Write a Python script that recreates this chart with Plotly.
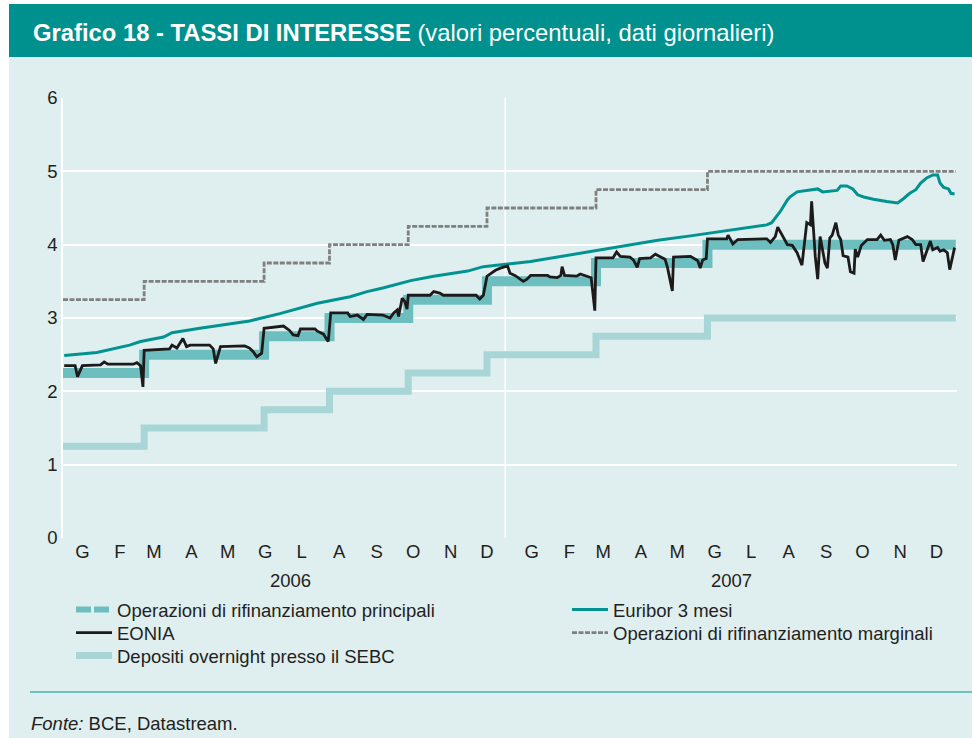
import plotly.graph_objects as go

# ---------------- data ----------------
# Policy rates (step changes, effective dates)
policy_dates = ["2006-01-01", "2006-03-09", "2006-06-16", "2006-08-09", "2006-10-13",
                "2006-12-17", "2007-03-17", "2007-06-17", "2008-01-08"]
mro_values = [2.25, 2.50, 2.75, 3.00, 3.25, 3.50, 3.75, 4.00, 4.00]
deposit_values = [1.25, 1.50, 1.75, 2.00, 2.25, 2.50, 2.75, 3.00, 3.00]
marginal_values = [3.25, 3.50, 3.75, 4.00, 4.25, 4.50, 4.75, 5.00, 5.00]

euribor_dates = ["2006-01-02", "2006-01-29", "2006-02-25", "2006-03-06", "2006-03-25", "2006-04-01",
                 "2006-04-24", "2006-05-15", "2006-06-04", "2006-06-29", "2006-07-30", "2006-08-26",
                 "2006-09-09", "2006-09-22", "2006-10-01", "2006-10-15", "2006-11-03", "2006-11-17",
                 "2006-12-01", "2006-12-14", "2006-12-28", "2007-01-11", "2007-01-22", "2007-02-13",
                 "2007-03-18", "2007-04-08", "2007-05-07", "2007-06-03", "2007-06-30", "2007-07-22",
                 "2007-08-05", "2007-08-09", "2007-08-14", "2007-08-16", "2007-08-22", "2007-08-24",
                 "2007-08-30", "2007-09-10", "2007-09-16", "2007-09-20", "2007-10-02", "2007-10-05",
                 "2007-10-10", "2007-10-15", "2007-10-19", "2007-10-24", "2007-11-01", "2007-11-12",
                 "2007-11-21", "2007-11-26", "2007-12-01", "2007-12-06", "2007-12-10", "2007-12-15",
                 "2007-12-20", "2007-12-24", "2007-12-26", "2007-12-29", "2008-01-02", "2008-01-04",
                 "2008-01-07"]
euribor_values = [2.49, 2.53, 2.63, 2.68, 2.74, 2.80,
                  2.86, 2.91, 2.96, 3.06, 3.20, 3.29,
                  3.36, 3.41, 3.45, 3.51, 3.57, 3.61,
                  3.64, 3.70, 3.73, 3.75, 3.77, 3.83,
                  3.92, 3.98, 4.06, 4.12, 4.18, 4.23,
                  4.27, 4.30, 4.40, 4.45, 4.61, 4.65,
                  4.72, 4.75, 4.76, 4.72, 4.74, 4.80,
                  4.80, 4.76, 4.68, 4.65, 4.62, 4.59,
                  4.57, 4.63, 4.70, 4.75, 4.84, 4.91,
                  4.95, 4.95, 4.84, 4.78, 4.76, 4.70,
                  4.69]

eonia_dates = ["2006-01-02", "2006-01-11", "2006-01-13", "2006-01-17", "2006-02-01", "2006-02-04",
               "2006-02-07", "2006-02-28", "2006-03-03", "2006-03-06", "2006-03-08", "2006-03-09",
               "2006-03-30", "2006-04-01", "2006-04-05", "2006-04-10", "2006-04-13", "2006-04-16",
               "2006-05-02", "2006-05-05", "2006-05-07", "2006-05-11", "2006-05-31", "2006-06-04",
               "2006-06-07", "2006-06-10", "2006-06-14", "2006-06-16", "2006-07-02", "2006-07-07",
               "2006-07-10", "2006-07-14", "2006-07-16", "2006-07-28", "2006-07-30", "2006-08-04",
               "2006-08-07", "2006-08-08", "2006-08-10", "2006-08-24", "2006-08-26", "2006-09-01",
               "2006-09-06", "2006-09-09", "2006-09-22", "2006-09-26", "2006-09-28", "2006-10-01",
               "2006-10-04", "2006-10-05", "2006-10-08", "2006-10-10", "2006-10-12", "2006-10-13",
               "2006-10-31", "2006-11-03", "2006-11-08", "2006-11-11", "2006-12-08", "2006-12-11",
               "2006-12-14", "2006-12-17", "2006-12-20", "2006-12-24", "2006-12-28", "2007-01-03",
               "2007-01-05", "2007-01-09", "2007-01-16", "2007-01-19", "2007-01-22", "2007-02-05",
               "2007-02-07", "2007-02-13", "2007-02-16", "2007-02-17", "2007-02-19", "2007-03-01",
               "2007-03-04", "2007-03-10", "2007-03-13", "2007-03-16", "2007-03-17", "2007-03-31",
               "2007-04-03", "2007-04-06", "2007-04-14", "2007-04-17", "2007-04-20", "2007-04-22",
               "2007-05-01", "2007-05-05", "2007-05-09", "2007-05-13", "2007-05-15", "2007-05-19",
               "2007-05-20", "2007-06-03", "2007-06-09", "2007-06-11", "2007-06-13", "2007-06-16",
               "2007-06-17", "2007-07-03", "2007-07-04", "2007-07-08", "2007-07-12", "2007-08-05",
               "2007-08-08", "2007-08-12", "2007-08-14", "2007-08-16", "2007-08-19", "2007-08-22",
               "2007-08-26", "2007-08-30", "2007-09-03", "2007-09-07", "2007-09-10", "2007-09-11",
               "2007-09-14", "2007-09-16", "2007-09-18", "2007-09-21", "2007-09-22", "2007-09-24",
               "2007-09-26", "2007-09-28", "2007-10-01", "2007-10-03", "2007-10-05", "2007-10-07",
               "2007-10-11", "2007-10-13", "2007-10-16", "2007-10-17", "2007-10-19", "2007-10-22",
               "2007-10-27", "2007-11-04", "2007-11-07", "2007-11-10", "2007-11-15", "2007-11-17",
               "2007-11-19", "2007-11-22", "2007-11-29", "2007-12-03", "2007-12-06", "2007-12-10",
               "2007-12-12", "2007-12-18", "2007-12-20", "2007-12-24", "2007-12-26", "2007-12-29",
               "2008-01-01", "2008-01-03", "2008-01-07"]
eonia_values = [2.35, 2.35, 2.20, 2.35, 2.36, 2.40,
                2.37, 2.37, 2.39, 2.35, 2.06, 2.56,
                2.58, 2.63, 2.59, 2.72, 2.61, 2.63,
                2.63, 2.58, 2.38, 2.61, 2.62, 2.59,
                2.54, 2.47, 2.52, 2.86, 2.89, 2.83,
                2.77, 2.76, 2.85, 2.85, 2.82, 2.78,
                2.70, 2.68, 3.07, 3.07, 3.02, 3.04,
                2.98, 3.05, 3.04, 3.02, 3.00, 3.07,
                3.11, 3.02, 3.27, 3.23, 3.12, 3.31,
                3.31, 3.36, 3.34, 3.31, 3.31, 3.26,
                3.31, 3.57, 3.61, 3.65, 3.68, 3.71,
                3.61, 3.58, 3.50, 3.53, 3.58, 3.58,
                3.56, 3.55, 3.58, 3.70, 3.58, 3.57,
                3.60, 3.57, 3.55, 3.10, 3.82, 3.82,
                3.90, 3.84, 3.83, 3.79, 3.69, 3.81,
                3.82, 3.87, 3.84, 3.80, 3.69, 3.37,
                3.83, 3.84, 3.78, 3.68, 3.79, 3.81,
                4.08, 4.08, 4.13, 4.01, 4.07, 4.08,
                4.03, 4.11, 4.24, 4.18, 4.07, 4.00,
                3.99, 3.89, 3.72, 4.30, 4.27, 4.59,
                3.84, 3.53, 4.11, 3.79, 3.75, 3.68,
                4.09, 4.13, 4.30, 4.13, 4.07, 3.85,
                3.83, 3.63, 3.61, 3.94, 3.83, 3.99,
                4.07, 4.07, 4.13, 4.06, 4.07, 4.00,
                3.79, 4.06, 4.11, 4.07, 4.00, 4.00,
                3.77, 4.05, 3.93, 3.96, 3.91, 3.93,
                3.89, 3.66, 3.96]

month_labels = ["G", "F", "M", "A", "M", "G", "L", "A", "S", "O", "N", "D"]
tick_dates_2006 = ["2006-%02d-17" % m for m in range(1, 13)]
tick_dates_2007 = ["2007-%02d-23" % m for m in range(1, 13)]
year_labels = ["2006", "2007"]
y_ticks = [0, 1, 2, 3, 4, 5, 6]

# ---------------- style ----------------
W, H = 972, 738
BG = "#dfeeef"
TEAL = "#00918e"
TXT = "#231f20"
FONT = "Liberation Sans, Arial, Helvetica, sans-serif"
FS = 18.5
C_MRO = "#6dbfbf"
C_DEP = "#a8d5d5"
C_EUR = "#00938f"
C_MAR = "#808080"
C_EON = "#1c1a1a"


def px(x):
    return x / W


def py(y):
    return 1 - y / H


fig = go.Figure()

fig.add_trace(go.Scatter(x=policy_dates, y=deposit_values, mode="lines", line_shape="hv",
                         line=dict(color=C_DEP, width=7), name="Depositi overnight presso il SEBC",
                         legend="legend3"))
fig.add_trace(go.Scatter(x=policy_dates, y=mro_values, mode="lines", line_shape="hv",
                         line=dict(color=C_MRO, width=10), showlegend=False))
fig.add_trace(go.Scatter(x=policy_dates, y=marginal_values, mode="lines", line_shape="hv",
                         line=dict(color=C_MAR, width=2.8, dash="5px,1.5px"),
                         name="Operazioni di rifinanziamento marginali", legend="legend5"))
fig.add_trace(go.Scatter(x=euribor_dates, y=euribor_values, mode="lines",
                         line=dict(color=C_EUR, width=3), name="Euribor 3 mesi", legend="legend4"))
fig.add_trace(go.Scatter(x=eonia_dates, y=eonia_values, mode="lines",
                         line=dict(color=C_EON, width=2.8), name="EONIA", legend="legend2"))
# legend proxy for the main refinancing operations (dashed thick symbol)
fig.add_trace(go.Scatter(x=[None], y=[None], mode="lines",
                         line=dict(color=C_MRO, width=6, dash="15px,3px"),
                         name="Operazioni di rifinanziamento principali", legend="legend"))

shapes = [
    # card background
    dict(type="rect", xref="paper", yref="paper", x0=px(9), x1=1, y0=0, y1=py(4),
         fillcolor=BG, line=dict(width=0), layer="below"),
    # title bar
    dict(type="rect", xref="paper", yref="paper", x0=px(9), x1=1, y0=py(57), y1=py(4),
         fillcolor=TEAL, line=dict(width=0), layer="below"),
    # footer separator
    dict(type="line", xref="paper", yref="paper", x0=px(30), x1=1, y0=py(692), y1=py(692),
         line=dict(color=TEAL, width=1.2), layer="below"),
    # year divider
    dict(type="line", xref="x", yref="y", x0="2007-01-01", x1="2007-01-01", y0=0, y1=6,
         line=dict(color="white", width=1.5), layer="below"),
]

annotations = [
    dict(xref="paper", yref="paper", x=px(31), y=py(33), xanchor="left", yanchor="middle",
         text="<b>Grafico 18 - TASSI DI INTERESSE</b> (valori percentuali, dati giornalieri)",
         showarrow=False, font=dict(family=FONT, size=23.8, color="white")),
    dict(xref="paper", yref="paper", x=px(290), y=py(580), xanchor="center", yanchor="middle",
         text=year_labels[0], showarrow=False, font=dict(family=FONT, size=FS, color=TXT)),
    dict(xref="paper", yref="paper", x=px(731), y=py(580), xanchor="center", yanchor="middle",
         text=year_labels[1], showarrow=False, font=dict(family=FONT, size=FS, color=TXT)),
    dict(xref="paper", yref="paper", x=px(29), y=py(723), xanchor="left", yanchor="middle",
         text="<i>Fonte:</i> BCE, Datastream.", showarrow=False,
         font=dict(family=FONT, size=FS, color=TXT)),
]


def leg(x, y):
    return dict(orientation="v", x=px(x), y=py(y), xanchor="left", yanchor="middle",
                bgcolor="rgba(0,0,0,0)", borderwidth=0,
                font=dict(family=FONT, size=FS, color=TXT), itemwidth=36)


fig.update_layout(
    width=W, height=H, autosize=False,
    margin=dict(l=0, r=0, t=0, b=0, pad=0, autoexpand=False),
    paper_bgcolor="white",
    plot_bgcolor=BG,
    font=dict(family=FONT, size=FS, color=TXT),
    shapes=shapes,
    annotations=annotations,
    showlegend=True,
    legend=leg(71, 610),
    legend2=leg(71, 633),
    legend3=leg(71, 656),
    legend4=leg(567, 610),
    legend5=leg(567, 633),
    xaxis=dict(domain=[px(63), px(957)], type="date", automargin=False,
               range=["2006-01-01", "2008-01-09"],
               tickvals=tick_dates_2006 + tick_dates_2007,
               ticktext=month_labels + month_labels,
               showgrid=False, zeroline=False, showline=False, ticks="",
               tickfont=dict(family=FONT, size=FS, color=TXT)),
    yaxis=dict(domain=[py(538), py(98)], range=[0, 6], tickvals=y_ticks, automargin=False,
               showgrid=True, gridcolor="white", gridwidth=1.5, zeroline=False,
               showline=True, linecolor="white", linewidth=1.5,
               ticks="", ticklabelstandoff=0,
               tickfont=dict(family=FONT, size=FS, color=TXT)),
)

fig.write_html("out.html", config={"displayModeBar": False},
               post_script="document.body.style.margin='0';document.body.style.overflow='hidden';")
